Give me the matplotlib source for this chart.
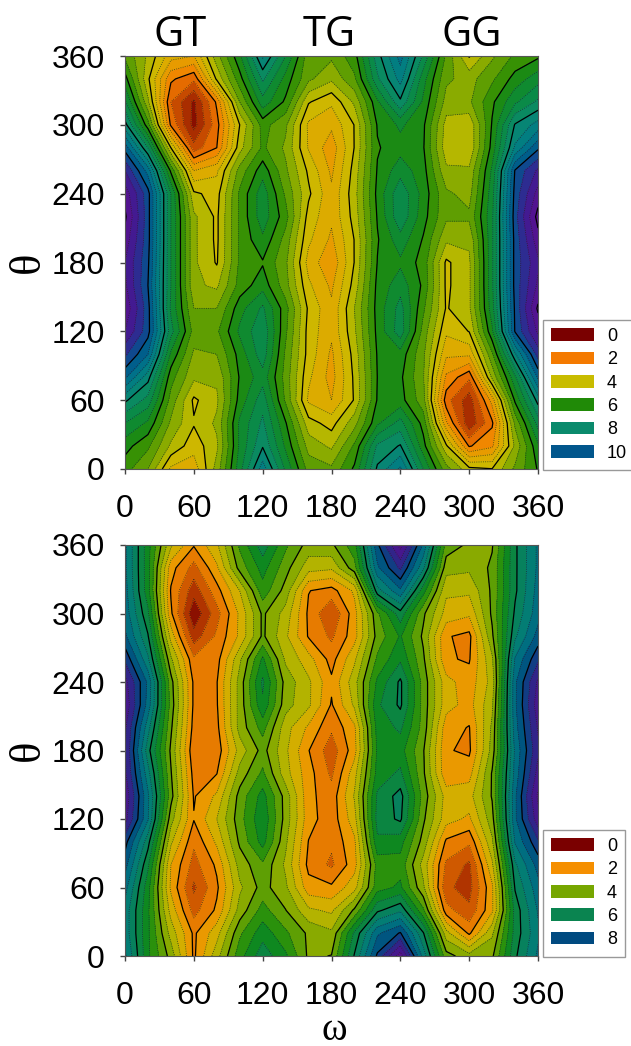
import numpy as np
import matplotlib
matplotlib.use('Agg')
import matplotlib.pyplot as plt
from matplotlib.colors import LinearSegmentedColormap
from matplotlib.patches import Patch

omega = np.arange(0, 361, 20)
theta = np.arange(360, -1, -20)
ticks = [0, 60, 120, 180, 240, 300, 360]
titles = ["GT", "TG", "GG"]

# columns are omega 0..360, values run theta 360 -> 0
top_cols = [
    [5.4, 6.2, 7.1, 8.2, 9.8, 11.0, 11.8, 12.1, 11.8, 11.5, 11.6, 11.9, 11.5, 10.6, 9.6, 8.1, 7.0, 6.2, 5.7],
    [4.4, 4.1, 4.6, 5.7, 7.5, 9.3, 10.2, 10.2, 10.2, 10.1, 10.0, 10.2, 10.2, 9.5, 8.2, 7.3, 6.4, 5.6, 5.0],
    [3.2, 2.1, 1.5, 1.9, 4.0, 5.9, 7.0, 7.0, 7.0, 7.0, 7.0, 6.9, 7.2, 6.4, 5.7, 5.3, 4.9, 4.4, 3.4],
    [3.0, 1.6, 0.4, 0.3, 1.2, 3.0, 4.1, 4.6, 4.6, 4.6, 4.6, 5.0, 5.3, 4.9, 4.6, 3.9, 4.05, 3.7, 3.2],
    [4.8, 4.1, 2.1, 1.8, 2.0, 3.4, 3.8, 3.9, 3.9, 3.95, 4.4, 5.0, 5.4, 5.0, 4.6, 4.4, 4.6, 4.4, 4.7],
    [6.4, 5.8, 5.0, 4.0, 4.3, 5.2, 5.6, 5.6, 5.6, 5.6, 5.7, 6.3, 6.6, 6.2, 6.05, 6.2, 6.6, 6.6, 6.8],
    [8.6, 7.6, 6.8, 5.7, 5.6, 6.3, 6.8, 6.8, 6.4, 5.95, 6.3, 7.1, 7.4, 7.3, 6.8, 7.3, 7.6, 7.95, 8.8],
    [7.0, 6.3, 5.9, 5.1, 4.9, 5.1, 5.4, 5.7, 5.3, 5.1, 5.2, 5.7, 5.6, 5.4, 5.3, 5.4, 6.05, 6.4, 6.9],
    [5.2, 5.1, 4.05, 3.4, 3.45, 3.9, 4.1, 3.8, 3.6, 3.3, 3.6, 3.9, 3.8, 3.8, 3.6, 3.4, 4.2, 4.8, 5.3],
    [5.1, 4.6, 3.6, 3.1, 2.7, 2.9, 3.1, 3.1, 2.9, 2.6, 2.9, 3.1, 3.1, 2.9, 2.8, 3.0, 3.8, 4.4, 5.1],
    [5.8, 5.4, 4.6, 4.02, 4.02, 4.2, 4.3, 4.2, 4.02, 4.02, 4.2, 4.5, 4.4, 4.2, 4.1, 4.05, 4.8, 5.6, 6.1],
    [7.8, 7.4, 6.4, 6.05, 5.95, 6.05, 6.15, 6.05, 5.95, 6.02, 6.15, 6.2, 6.15, 6.05, 6.01, 6.05, 6.4, 7.6, 8.1],
    [9.2, 8.7, 7.9, 6.6, 6.3, 6.8, 7.4, 7.4, 6.8, 6.4, 6.8, 7.2, 7.3, 6.3, 6.1, 6.2, 7.2, 8.05, 9.1],
    [7.4, 6.7, 6.4, 6.1, 6.05, 6.2, 6.3, 6.2, 5.95, 5.8, 5.9, 5.6, 5.3, 5.1, 5.05, 5.2, 5.8, 6.2, 7.0],
    [5.4, 5.1, 4.8, 4.3, 4.2, 4.6, 5.1, 5.1, 4.6, 3.9, 3.9, 3.95, 3.6, 3.1, 2.4, 1.7, 2.6, 4.1, 5.2],
    [3.95, 4.8, 4.9, 4.1, 4.05, 4.6, 4.8, 5.1, 4.6, 4.4, 4.4, 4.4, 4.02, 3.1, 1.6, 0.7, 0.6, 1.95, 4.15],
    [4.9, 5.4, 5.9, 6.05, 6.2, 6.6, 6.8, 6.9, 6.9, 6.9, 6.9, 6.8, 6.4, 5.4, 4.6, 2.7, 1.9, 2.4, 4.02],
    [5.6, 6.2, 6.9, 8.05, 8.6, 10.05, 10.2, 10.3, 10.2, 10.2, 10.2, 10.1, 10.05, 8.4, 6.9, 6.1, 5.1, 4.6, 5.1],
    [5.9, 6.8, 7.6, 8.7, 9.9, 11.1, 11.7, 12.2, 11.8, 11.4, 11.6, 12.1, 11.6, 10.7, 9.6, 8.2, 7.2, 6.4, 6.05],
]

bottom_cols = [
    [7.1, 7.1, 7.2, 7.3, 7.6, 8.4, 9.2, 9.4, 9.1, 9.05, 9.1, 9.4, 9.2, 8.2, 7.7, 7.2, 6.8, 6.8, 7.1],
    [5.2, 5.2, 5.2, 5.6, 6.05, 6.6, 7.4, 7.3, 6.7, 6.2, 6.7, 7.1, 7.05, 6.2, 5.6, 5.2, 5.1, 5.1, 5.1],
    [3.1, 2.2, 1.95, 2.1, 2.8, 3.6, 4.2, 4.3, 4.1, 3.9, 4.05, 4.2, 3.7, 3.1, 2.5, 2.4, 2.8, 3.3, 3.8],
    [2.05, 1.3, 0.7, 0.1, 0.7, 1.6, 1.9, 1.9, 1.8, 1.6, 1.8, 1.95, 2.03, 1.6, 1.3, 0.9, 1.3, 1.9, 1.9],
    [2.9, 2.4, 1.8, 1.3, 1.6, 1.8, 1.97, 1.95, 1.85, 1.7, 1.98, 2.6, 3.0, 2.6, 2.1, 1.9, 2.1, 2.8, 3.3],
    [4.6, 4.2, 3.0, 2.6, 2.6, 3.4, 3.7, 3.7, 3.7, 3.2, 3.7, 4.2, 4.3, 4.1, 3.7, 3.4, 3.7, 4.4, 4.8],
    [5.8, 5.2, 4.8, 4.1, 4.1, 5.1, 5.6, 5.4, 4.7, 4.2, 4.6, 5.2, 5.4, 5.2, 4.4, 4.2, 4.7, 5.3, 5.8],
    [4.6, 4.2, 3.8, 3.3, 3.1, 3.4, 3.8, 3.7, 3.2, 3.1, 3.2, 3.8, 3.8, 3.6, 3.4, 3.6, 4.02, 4.6, 5.1],
    [3.8, 3.2, 2.02, 1.9, 1.95, 2.7, 3.1, 3.1, 2.4, 2.02, 2.2, 2.15, 2.2, 1.98, 1.85, 2.2, 3.1, 3.9, 3.9],
    [3.9, 3.1, 1.8, 1.0, 1.4, 1.8, 2.1, 1.95, 1.6, 1.2, 1.4, 1.7, 1.7, 1.6, 1.4, 2.1, 2.9, 3.6, 4.02],
    [4.8, 4.3, 2.6, 2.3, 2.3, 2.9, 3.3, 3.1, 2.4, 2.3, 2.8, 3.05, 2.8, 2.4, 2.3, 2.8, 4.1, 5.6, 6.05],
    [7.9, 7.4, 6.3, 4.4, 4.2, 4.6, 5.1, 5.4, 5.2, 5.1, 5.2, 5.6, 5.7, 5.4, 4.7, 4.8, 5.9, 7.4, 8.1],
    [9.7, 8.6, 7.4, 5.8, 5.05, 5.4, 6.1, 6.1, 5.6, 5.2, 5.6, 6.2, 6.1, 5.2, 4.8, 5.1, 6.4, 8.05, 9.8],
    [7.4, 6.6, 5.2, 4.1, 3.9, 4.1, 4.3, 4.3, 4.3, 4.05, 4.1, 4.3, 4.1, 3.8, 3.3, 3.6, 4.6, 6.05, 6.8],
    [4.3, 3.7, 3.1, 2.8, 2.05, 2.05, 2.7, 2.7, 2.2, 2.05, 2.1, 2.8, 2.7, 1.9, 1.4, 1.1, 1.7, 3.2, 4.2],
    [3.9, 3.6, 3.1, 2.6, 1.85, 1.95, 2.2, 2.3, 1.97, 1.9, 2.3, 2.8, 2.4, 1.6, 0.9, 0.8, 1.1, 1.9, 3.7],
    [3.95, 4.1, 4.1, 4.1, 3.9, 3.4, 3.2, 3.4, 3.6, 3.7, 4.05, 4.05, 3.8, 3.4, 2.9, 2.4, 2.4, 3.4, 3.9],
    [5.9, 5.9, 5.9, 6.1, 6.4, 7.05, 7.4, 7.4, 7.3, 7.1, 7.2, 7.4, 7.4, 7.05, 6.4, 6.05, 5.7, 5.7, 5.9],
    [7.1, 7.1, 7.2, 7.3, 7.7, 8.4, 9.1, 9.3, 9.05, 8.9, 9.2, 9.6, 9.3, 8.4, 7.7, 7.3, 7.05, 6.9, 7.1],
]

top_legend = [0, 2, 4, 6, 8, 10]
bottom_legend = [0, 2, 4, 6, 8]

top_colors = ["#7a0000", "#b83c00", "#f57c00", "#e2a600", "#c8bc00", "#76a600", "#218a06",
              "#0a8a3c", "#0a8a6c", "#007a88", "#00578c", "#3a1f92", "#5a0f90"]
bottom_colors = ["#7a0000", "#c24600", "#f58f00", "#c8b800", "#76a600", "#108a10", "#0a8450",
                 "#007a80", "#004a80", "#3f1a8c", "#5a1090"]

plt.rcParams['font.family'] = ['Liberation Sans', 'DejaVu Sans']

W, H = 631, 1046
fig = plt.figure(figsize=(W / 100, H / 100), dpi=100)


def panel(cols, colors, vmax, y0, y1):
    ax = fig.add_axes([125 / W, 1 - y1 / H, 413 / W, (y1 - y0) / H])
    z = np.array(cols).T
    cmap = LinearSegmentedColormap.from_list("c", colors)
    levels = np.arange(-0.5, vmax + 0.51, 0.5)
    ax.contourf(omega, theta, z, levels=levels, cmap=cmap, vmin=0, vmax=vmax)
    dotted = [l for l in levels if l % 2 != 0]
    solid = [l for l in levels if l % 2 == 0]
    ax.contour(omega, theta, z, levels=dotted, colors="#222222", linewidths=0.6,
               linestyles=":", alpha=0.85)
    ax.contour(omega, theta, z, levels=solid, colors="black", linewidths=0.9,
               linestyles="-")
    ax.set_xlim(0, 360)
    ax.set_ylim(0, 360)
    ax.set_xticks(ticks)
    ax.set_yticks(ticks)
    ax.tick_params(labelsize=23, length=3.6, width=1, color="#444444")
    ax.tick_params(axis="y", pad=11)
    ax.tick_params(axis="x", pad=14.5)
    for s in ax.spines.values():
        s.set_color("#555555")
        s.set_linewidth(0.8)
    fig.text(28 / W, 1 - (y0 + y1) / 2 / H, "θ", family="Liberation Serif", fontsize=32,
             rotation=90, ha="center", va="center")
    return ax, cmap


def legend(cmap, vals, vmax, y0):
    handles = [Patch(facecolor=cmap(v / vmax), edgecolor="none") for v in vals]
    labels = [str(v) for v in vals]
    fig.legend(handles, labels, loc="upper left", bbox_to_anchor=(543 / W, 1 - y0 / H),
               frameon=True, fancybox=False, edgecolor="#999999", framealpha=1, fontsize=13,
               handlelength=2.4, handleheight=0.7, handletextpad=0.7,
               labelspacing=0.35, borderpad=0.45, borderaxespad=0)


ax1, cmap1 = panel(top_cols, top_colors, 12, 56, 469)
ax2, cmap2 = panel(bottom_cols, bottom_colors, 10, 545, 956)
legend(cmap1, top_legend, 12, 320)
legend(cmap2, bottom_legend, 10, 830)

fig.text(334 / W, 1 - 1040 / H, "ω", family="Liberation Serif", fontsize=28, ha="center",
         va="baseline")
for x, t in zip([180, 329, 472], titles):
    fig.text(x / W, 1 - 46 / H, t, family="Open Sans", fontsize=30, ha="center", va="baseline")

fig.savefig("out.png", dpi=100)
